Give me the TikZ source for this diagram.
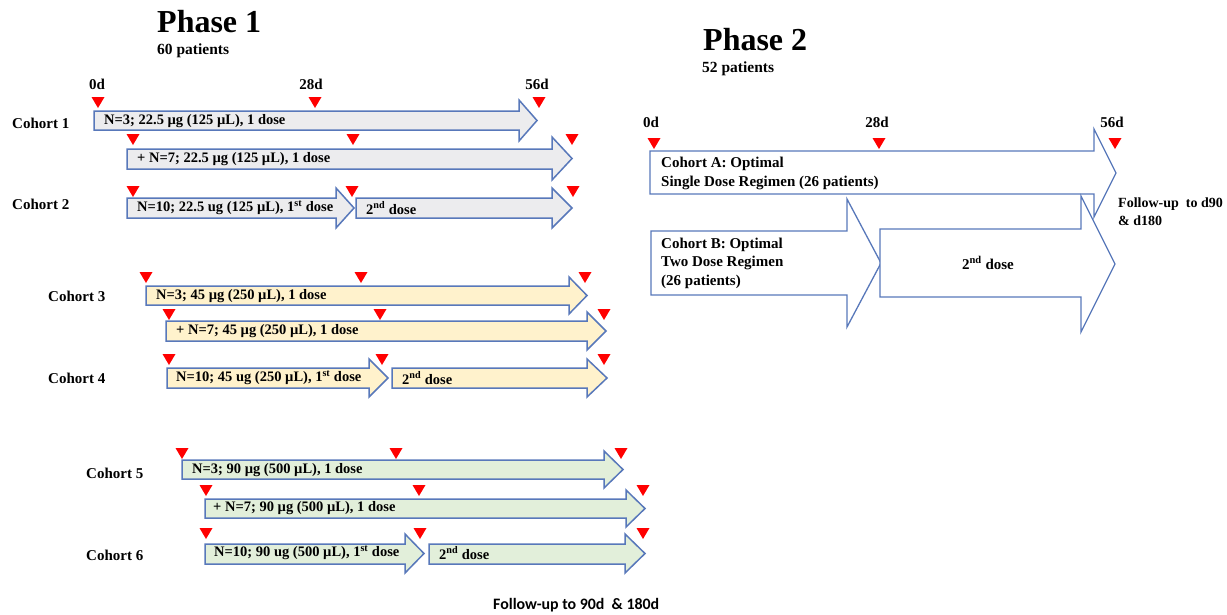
\documentclass[tikz,border=0pt]{standalone}
\usepackage{fontspec}
\setmainfont{Liberation Serif}
\newfontfamily\calfont{Carlito}
\definecolor{edge}{RGB}{88,120,186}
\definecolor{grayfill}{RGB}{236,236,238}
\definecolor{yelfill}{RGB}{255,242,204}
\definecolor{grnfill}{RGB}{226,239,218}
\newcommand{\harrow}[9][1.5pt]{%
  \filldraw[draw=edge, line width=#1, line join=miter, fill=#2]
    (#3,#6) -- (#4,#6) -- (#4,#8) -- (#5,{(#8+#9)/2}) -- (#4,#9) -- (#4,#7) -- (#3,#7) -- cycle;}
\newcommand{\tri}[2]{\fill[red] (#1-6.5,#2) -- (#1+6.5,#2) -- (#1,#2+11) -- cycle;}
\begin{document}
\begin{tikzpicture}[x=1pt,y=-1pt,
  every node/.style={inner sep=0pt},
  txt/.style={anchor=west, font=\bfseries\fontsize{14.5}{16}\selectfont},
  coh/.style={anchor=west, font=\bfseries\fontsize{15}{17}\selectfont},
  day/.style={font=\bfseries\fontsize{15}{17}\selectfont},
  ptxt/.style={anchor=west, font=\bfseries\fontsize{15}{18}\selectfont},
  title/.style={anchor=base west, font=\bfseries\fontsize{32}{36}\selectfont},
  sub/.style={anchor=west, font=\bfseries\fontsize{15.5}{18}\selectfont}]
\useasboundingbox (0,0) rectangle (1227,614);
\fill[white] (0,0) rectangle (1227,614);

% ---------- Phase 1 ----------
\node[title] (ph1) at (157,32) {Phase 1};
\node[sub] (p1n) at (157,51) {60 patients};
\node[day] (d0) at (97,84) {0d};
\node[day] (d28) at (311,84) {28d};
\node[day] (d56) at (537,84) {56d};

% Cohort 1
\tri{98}{97}\tri{315}{97}\tri{539}{97}
\harrow{grayfill}{94}{519}{537}{111}{130}{100}{141}
\node[coh] (c1) at (12,123) {Cohort 1};
\node[txt] (t1) at (104,121) {N=3; 22.5 µg (125 µL), 1 dose};
\tri{133}{134}\tri{353}{134}\tri{572}{134}
\harrow{grayfill}{127}{552}{572}{149}{169}{137}{180}
\node[txt] (t1b) at (137,159) {+ N=7; 22.5 µg (125 µL), 1 dose};
% Cohort 2
\tri{133}{186}\tri{352}{186}\tri{573}{186}
\harrow{grayfill}{127}{336}{354}{198}{218}{188}{228}
\harrow{grayfill}{356}{552}{572}{198}{218}{188}{228}
\node[coh] (c2) at (12,204) {Cohort 2};
\node[txt] (t2a) at (137,208) {N=10; 22.5 ug (125 µL), 1\textsuperscript{st} dose};
\node[txt] (t2b) at (366,208) {2\textsuperscript{nd} dose};

% Cohort 3
\tri{146}{272}\tri{361}{272}\tri{585}{272}
\harrow{yelfill}{146}{569}{587}{286}{305}{277}{314}
\node[coh] (c3) at (48,296) {Cohort 3};
\node[txt] (t3) at (156,296) {N=3; 45 µg (250 µL), 1 dose};
\tri{169}{309}\tri{380}{309}\tri{604}{309}
\harrow{yelfill}{166}{587}{606}{321}{341}{312}{350}
\node[txt] (t3b) at (176,331) {+ N=7; 45 µg (250 µL), 1 dose};
% Cohort 4
\tri{169}{354}\tri{382}{354}\tri{604}{354}
\harrow{yelfill}{167}{369}{388}{368}{388}{359}{397}
\harrow{yelfill}{392}{587}{607}{368}{388}{359}{397}
\node[coh] (c4) at (48,378) {Cohort 4};
\node[txt] (t4a) at (176,378) {N=10; 45 ug (250 µL), 1\textsuperscript{st} dose};
\node[txt] (t4b) at (402,378) {2\textsuperscript{nd} dose};

% Cohort 5
\tri{182}{448}\tri{396}{448}\tri{621}{448}
\harrow{grnfill}{182}{604}{623}{460}{479}{451}{488}
\node[coh] (c5) at (86,473) {Cohort 5};
\node[txt] (t5) at (192,470) {N=3; 90 µg (500 µL), 1 dose};
\tri{206}{485}\tri{419}{485}\tri{643}{485}
\harrow{grnfill}{205}{626}{645}{499}{518}{490}{527}
\node[txt] (t5b) at (213,508) {+ N=7; 90 µg (500 µL), 1 dose};
% Cohort 6
\tri{206}{528}\tri{420}{528}\tri{643}{528}
\harrow{grnfill}{205}{405}{424}{544}{564}{534}{573}
\harrow{grnfill}{429}{625}{645}{544}{564}{534}{573}
\node[coh] (c6) at (86,555) {Cohort 6};
\node[txt] (t6a) at (214,553) {N=10; 90 ug (500 µL), 1\textsuperscript{st} dose};
\node[txt] (t6b) at (439,553) {2\textsuperscript{nd} dose};

\node[anchor=west, font=\calfont\bfseries\fontsize{15.9}{17}\selectfont] (fu1) at (493,605) {Follow-up to 90d \ \& 180d};

% ---------- Phase 2 ----------
\node[title] (ph2) at (703,50) {Phase 2};
\node[sub] (p2n) at (702,69) {52 patients};
\node[day] (e0) at (651,122) {0d};
\node[day] (e28) at (877,122) {28d};
\node[day] (e56) at (1112,122) {56d};
\tri{654}{138}\tri{879}{138}\tri{1115}{138}
\harrow[1.3pt]{white}{650}{1094}{1116}{151}{194}{129}{217}
\harrow[1.3pt]{white}{651}{847}{881}{231}{295}{199}{327}
\harrow[1.3pt]{white}{880}{1081}{1115}{229}{297}{196}{332}
\node[ptxt] (ca1) at (661,164) {Cohort A: Optimal};
\node[ptxt] (ca2) at (661,183) {Single Dose Regimen (26 patients)};
\node[ptxt] (cb1) at (661,245) {Cohort B: Optimal};
\node[ptxt] (cb2) at (661,263) {Two Dose Regimen};
\node[ptxt] (cb3) at (661,282) {(26 patients)};
\node[font=\bfseries\fontsize{15}{18}\selectfont] (sd) at (988,263) {2\textsuperscript{nd} dose};
\node[anchor=west, font=\bfseries\fontsize{14}{16}\selectfont] (fu2a) at (1118,204) {Follow-up \ to d90};
\node[anchor=west, font=\bfseries\fontsize{14}{16}\selectfont] (fu2b) at (1118,221) {\& d180};
\end{tikzpicture}
\end{document}
